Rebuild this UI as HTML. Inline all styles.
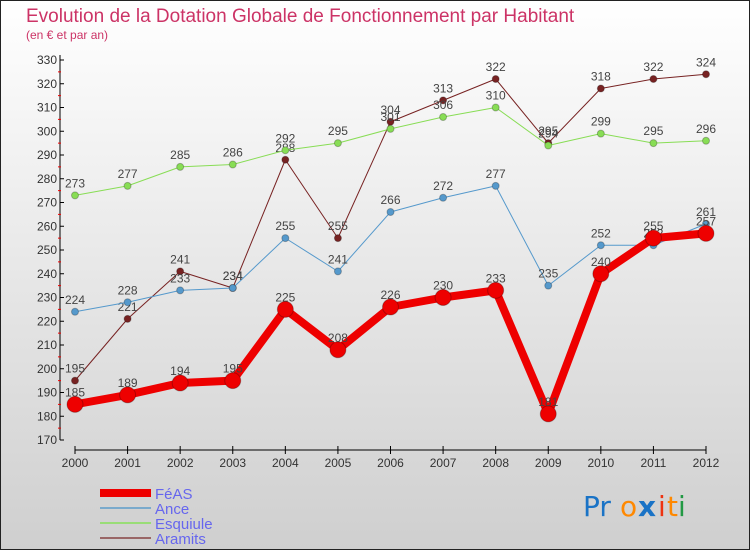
<!DOCTYPE html>
<html><head><meta charset="utf-8"><style>
html,body{margin:0;padding:0;}
body{width:750px;height:550px;overflow:hidden;font-family:"Liberation Sans",sans-serif;}
</style></head><body>
<svg id="chart" width="750" height="550" xmlns="http://www.w3.org/2000/svg" font-family="Liberation Sans, sans-serif">
<defs><linearGradient id="bg" x1="0" y1="0" x2="0" y2="1"><stop offset="0" stop-color="#ffffff"/><stop offset="1" stop-color="#cfcfcf"/></linearGradient></defs>
<rect x="0.5" y="0.5" width="749" height="549" fill="url(#bg)" stroke="#222" stroke-width="1"/>
<text x="26" y="22" font-size="19" fill="#cc3366">Evolution de la Dotation Globale de Fonctionnement par Habitant</text>
<text x="26" y="39" font-size="12" fill="#cc3366">(en € et par an)</text>
<g id="axes"></g>
<g id="series"></g>
<g id="legend"></g>
<g font-size="28" font-family="DejaVu Sans, sans-serif">
<text x="583" y="516" fill="#1a73c6">Pr</text><text x="620" y="516" fill="#ff8800">o</text><text x="638" y="516" fill="#1a73c6" font-weight="bold">x</text><text x="658" y="516" fill="#ee3311">i</text><text x="667" y="516" fill="#ff8800">t</text><text x="678" y="516" fill="#229944">i</text>
</g>
</svg>
<script>
const years = ["2000","2001","2002","2003","2004","2005","2006","2007","2008","2009","2010","2011","2012"];
const feas = [185,189,194,195,225,208,226,230,233,181,240,255,257];
const ance = [224,228,233,234,255,241,266,272,277,235,252,252,261];
const esquiule = [273,277,285,286,292,295,301,306,310,294,299,295,296];
const aramits = [195,221,241,234,288,255,304,313,322,295,318,322,324];
const yTicks = [170,180,190,200,210,220,230,240,250,260,270,280,290,300,310,320,330];

const NS="http://www.w3.org/2000/svg";
const X0=75, XSTEP=(706-75)/12, YMIN=170, YMAX=330, YT=60, YB=440;
const xs=i=>X0+i*XSTEP;
const ys=v=>YB-(v-YMIN)/(YMAX-YMIN)*(YB-YT);
function mk(tag,attrs,parent,txt){const e=document.createElementNS(NS,tag);for(const k in attrs)e.setAttribute(k,attrs[k]);if(txt!==undefined)e.textContent=txt;parent.appendChild(e);return e;}
const axes=document.getElementById('axes');
let e=mk('line',{x1:60,y1:YT-5,x2:60,y2:YB,stroke:'#000','stroke-width':1},axes);


e=mk('line',{x1:X0,y1:450,x2:xs(12),y2:450,stroke:'#000','stroke-width':1},axes);


yTicks.forEach((t,i)=>{
  mk('line',{x1:60,y1:ys(t),x2:64,y2:ys(t),stroke:'#000'},axes);
  if(i<yTicks.length-1) mk('line',{x1:58,y1:(ys(t)+ys(yTicks[i+1]))/2,x2:61,y2:(ys(t)+ys(yTicks[i+1]))/2,stroke:'#e00'},axes);
  const l=mk('text',{x:57,y:ys(t)+4,'text-anchor':'end','font-size':12,fill:'#333'},axes,t);
  
  
});
years.forEach((y,i)=>{
  mk('line',{x1:xs(i),y1:446,x2:xs(i),y2:454,stroke:'#000'},axes);
  const l=mk('text',{x:xs(i),y:467,'text-anchor':'middle','font-size':12,fill:'#333'},axes,y);
  
  
});
const series=[
 {name:'aramits',vals:aramits,color:'#772222',w:1,r:3.5},
 {name:'esquiule',vals:esquiule,color:'#88dd55',w:1,r:3.5},
 {name:'ance',vals:ance,color:'#5599cc',w:1,r:3.5},
 {name:'feas',vals:feas,color:'#ee0000',w:8,r:8}];
const sg=document.getElementById('series');
series.forEach(s=>{
  const g=mk('g',{},sg);
  
  
  const p=mk('polyline',{points:s.vals.map((v,i)=>xs(i)+','+ys(v)).join(' '),fill:'none',stroke:s.color,'stroke-width':s.w,'stroke-linejoin':'round'},g);
  
  
  s.vals.forEach((v,i)=>{
    const c=mk('circle',{cx:xs(i),cy:ys(v),r:s.r,fill:s.color,stroke:'rgba(0,0,0,0.25)','stroke-width':1},g);
    
    
    const t=mk('text',{x:xs(i),y:ys(v)-8,'text-anchor':'middle','font-size':12,fill:'#444'},g,v);
    
    
  });
});
const lg=document.getElementById('legend');
const leg=[['FéAS','#ee0000',8],['Ance','#7aaacc',2],['Esquiule','#99dd77',2],['Aramits','#996666',2]];
leg.forEach((l,i)=>{
  const y=493+i*15;
  const g=mk('g',{},lg);
  
  
  mk('line',{x1:100,y1:y,x2:151,y2:y,stroke:l[1],'stroke-width':l[2]},g);
  mk('text',{x:155,y:y+6,'font-size':15,fill:'#6666ee'},g,l[0]);
});
</script>
</body></html>
